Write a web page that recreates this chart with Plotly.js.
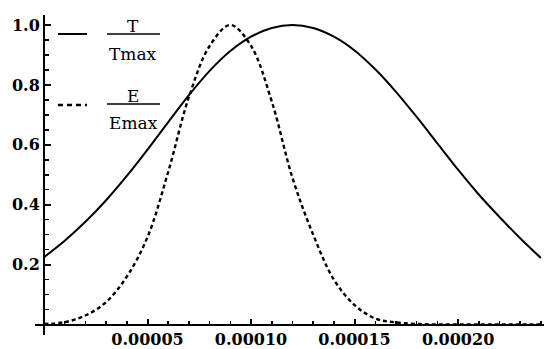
<!DOCTYPE html>
<html>
<head>
<meta charset="utf-8">
<script src="https://cdn.plot.ly/plotly-3.0.1.min.js"></script>
<style>html,body{margin:0;padding:0;background:#fff;}#chart{width:546px;height:349px;}</style>
</head>
<body>
<div id="chart"></div>
<script>
// ---- data ----
var xT = [0, 0.00001, 0.00002, 0.00003, 0.00004, 0.00005, 0.00006, 0.00007, 0.00008, 0.00009, 0.00010, 0.00011, 0.00012,
          0.00013, 0.00014, 0.00015, 0.00016, 0.00017, 0.00018, 0.00019, 0.00020, 0.00021, 0.00022, 0.00023, 0.00024];
var yT = [0.225, 0.28, 0.343, 0.415, 0.496, 0.584, 0.676, 0.766, 0.847, 0.913, 0.961, 0.99, 1.0,
          0.99, 0.961, 0.915, 0.852, 0.777, 0.693, 0.605, 0.517, 0.434, 0.359, 0.288, 0.222];
var xE = [0, 0.00001, 0.00002, 0.00003, 0.00004, 0.00005, 0.00006, 0.00007, 0.00008, 0.00009, 0.00010, 0.00011, 0.00012,
          0.00013, 0.00014, 0.00015, 0.00016, 0.00017, 0.00018, 0.00019, 0.00020, 0.00021, 0.00022, 0.00023, 0.00024];
var yE = [0.002, 0.008, 0.03, 0.075, 0.16, 0.292, 0.51, 0.76, 0.93, 1.0, 0.93, 0.745, 0.49,
          0.30, 0.15, 0.065, 0.02, 0.007, 0.002, 0, 0, 0, 0, 0, 0];
var xTickVals = [0.00005, 0.00010, 0.00015, 0.00020];
var xTickText = ["0.00005", "0.00010", "0.00015", "0.00020"];
var yTickVals = [0.2, 0.4, 0.6, 0.8, 1.0];
var yTickText = ["0.2", "0.4", "0.6", "0.8", "1.0"];
var legendNum = ["T", "E"];
var legendDen = ["Tmax", "Emax"];

// ---- layout helpers ----
var W = 546, H = 349;
var mL = 35, mR = 2, mT = 15, mB = 14;
var pw = W - mL - mR, ph = H - mT - mB;
function px(x) { return (x - mL) / pw; }
function py(y) { return (H - mB - y) / ph; }
var xRange = [-4.35e-6, 2.415e-4];
var yRange = [-0.035, 1.0334];
var xPos = (0 - yRange[0]) / (yRange[1] - yRange[0]);
var yPos = (0 - xRange[0]) / (xRange[1] - xRange[0]);

var tickFont = {family: "DejaVu Serif", size: 16, color: "#000", weight: "bold"};
var legFont = {family: "DejaVu Serif", size: 17, color: "#000"};

var traces = [
  {x: xT, y: yT, mode: "lines", line: {color: "#000", width: 2, shape: "spline", smoothing: 1}, hoverinfo: "skip"},
  {x: xE, y: yE, mode: "lines", line: {color: "#000", width: 2.4, dash: "4px,3px", shape: "spline", smoothing: 1}, hoverinfo: "skip"}
];

var shapes = [
  {type: "line", xref: "paper", yref: "paper", x0: px(58), x1: px(87), y0: py(34), y1: py(34), line: {color: "#000", width: 2}},
  {type: "line", xref: "paper", yref: "paper", x0: px(58), x1: px(87), y0: py(105), y1: py(105), line: {color: "#000", width: 2.4, dash: "5px,4px"}},
  {type: "line", xref: "paper", yref: "paper", x0: px(107), x1: px(160), y0: py(34), y1: py(34), line: {color: "#000", width: 1.5}},
  {type: "line", xref: "paper", yref: "paper", x0: px(107), x1: px(160), y0: py(104), y1: py(104), line: {color: "#000", width: 1.5}}
];
var annotations = [
  {xref: "paper", yref: "paper", x: px(133), y: py(26), text: legendNum[0], showarrow: false, font: legFont, xanchor: "center", yanchor: "middle"},
  {xref: "paper", yref: "paper", x: px(133), y: py(54), text: legendDen[0], showarrow: false, font: legFont, xanchor: "center", yanchor: "middle"},
  {xref: "paper", yref: "paper", x: px(133), y: py(96), text: legendNum[1], showarrow: false, font: legFont, xanchor: "center", yanchor: "middle"},
  {xref: "paper", yref: "paper", x: px(133), y: py(123), text: legendDen[1], showarrow: false, font: legFont, xanchor: "center", yanchor: "middle"}
];

var layout = {
  width: W, height: H,
  margin: {l: mL, r: mR, t: mT, b: mB, pad: 0},
  paper_bgcolor: "#fff", plot_bgcolor: "#fff",
  showlegend: false,
  xaxis: {
    range: xRange, anchor: "free", position: xPos,
    showgrid: false, zeroline: false, showline: true, linecolor: "#000", linewidth: 2,
    tickmode: "array", tickvals: xTickVals, ticktext: xTickText,
    ticks: "inside", ticklen: 5, tickwidth: 2, tickcolor: "#000",
    minor: {dtick: 0.00001, tick0: 0, ticks: "inside", ticklen: 3, tickwidth: 1.5, tickcolor: "#000", showgrid: false},
    tickfont: tickFont, ticklabelstandoff: 0, fixedrange: true
  },
  yaxis: {
    range: yRange, anchor: "free", position: yPos,
    showgrid: false, zeroline: false, showline: true, linecolor: "#000", linewidth: 2,
    tickmode: "array", tickvals: yTickVals, ticktext: yTickText,
    ticks: "inside", ticklen: 6, tickwidth: 2, tickcolor: "#000",
    minor: {dtick: 0.05, tick0: 0, ticks: "inside", ticklen: 4, tickwidth: 1.5, tickcolor: "#000", showgrid: false},
    tickfont: tickFont, fixedrange: true
  },
  shapes: shapes,
  annotations: annotations
};

Plotly.newPlot("chart", traces, layout, {staticPlot: true, displayModeBar: false});
</script>
</body>
</html>
